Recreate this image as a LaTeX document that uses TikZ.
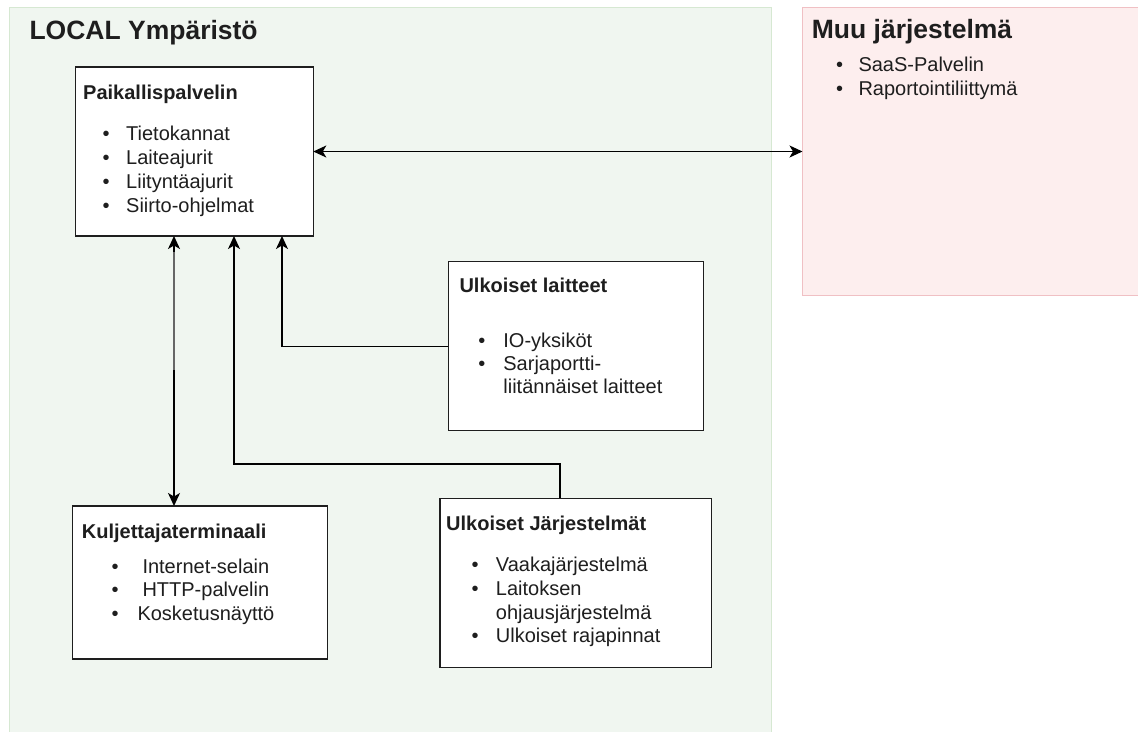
\documentclass[tikz,border=0pt]{standalone}
\usepackage{fontspec}
\setmainfont{Liberation Sans}
\usepackage{tikz}
\usetikzlibrary{arrows.meta}

\definecolor{localfill}{RGB}{240,246,240}
\definecolor{localline}{RGB}{214,232,210}
\definecolor{muufill}{RGB}{253,238,238}
\definecolor{muuline}{RGB}{240,192,196}
\definecolor{ink}{RGB}{30,30,30}

\tikzset{arr/.tip={Stealth[length=13pt,width=12pt,inset=3.5pt]}}

\begin{document}
\begin{tikzpicture}[x=1pt,y=-1pt,
    area/.style={draw, line width=1.2pt, anchor=north west, inner sep=0pt, outer sep=0pt},
    box/.style={draw=ink, fill=white, line width=1.5pt, anchor=north west, inner sep=0pt, outer sep=0pt},
    bigtitle/.style={anchor=base west, inner sep=0pt, text=ink, font=\fontsize{26.5}{30}\selectfont\bfseries},
    title/.style={anchor=base west, inner sep=0pt, text=ink, font=\fontsize{20}{24}\selectfont\bfseries},
    list/.style={anchor=base west, inner sep=0pt, text=ink},
    link/.style={draw=black, line width=1.4pt}]
    \clip (0,0) rectangle (1138,731);
    \fill[white] (0,0) rectangle (1138,731);

        % omat alueet
        \node[area, draw=localline, fill=localfill, minimum width=762pt, minimum height=740pt] (local) at (9.5,7.5) {};
        \node[area, draw=muuline, fill=muufill, minimum width=350pt, minimum height=288pt] (muu) at (802.5,7.5) {};
        \node[bigtitle] (localtitle) at (29.3,39.3) {LOCAL Ympäristö};
        \node[bigtitle] (muutitle) at (811.7,38.3) {Muu järjestelmä};
        \node[list] (muulist) at (835.8,71.7) {\fontsize{20}{23.3}\selectfont
            \begin{tabular}[t]{@{}c@{\hspace{15.5pt}}l@{}}
            \textbullet & SaaS-Palvelin\\
            \textbullet & Raportointiliittymä
            \end{tabular}};

        % laatikot
        \node[box, minimum width=238pt, minimum height=169pt] (pp) at (75.3,67) {};
        \node[box, minimum width=255pt, minimum height=169pt] (ul) at (448.3,261.7) {};
        \node[box, minimum width=255pt, minimum height=153pt] (kt) at (72.3,506) {};
        \node[box, minimum width=271.5pt, minimum height=169pt] (uj) at (440,498.3) {};

        \node[title] (pptitle) at (83,99) {Paikallispalvelin};
        \node[list] (pplist) at (102.5,140) {\fontsize{20}{24}\selectfont
            \begin{tabular}[t]{@{}c@{\hspace{16.5pt}}l@{}}
            \textbullet & Tietokannat\\
            \textbullet & Laiteajurit\\
            \textbullet & Liityntäajurit\\
            \textbullet & Siirto-ohjelmat
            \end{tabular}};

        \node[title] (ultitle) at (459.3,292.7) {Ulkoiset laitteet};
        \node[list] (ullist) at (478.2,347.3) {\fontsize{20}{23.3}\selectfont
            \begin{tabular}[t]{@{}c@{\hspace{18pt}}l@{}}
            \textbullet & IO-yksiköt\\
            \textbullet & Sarjaportti-\\
                        & liitännäiset laitteet
            \end{tabular}};

        \node[title] (kttitle) at (81.7,538.3) {Kuljettajaterminaali};
        \node[list] (ktlist) at (111.5,573.3) {\fontsize{20}{23.4}\selectfont
            \begin{tabular}[t]{@{}c@{\hspace{18.8pt}}c@{}}
            \textbullet & Internet-selain\\
            \textbullet & HTTP-palvelin\\
            \textbullet & Kosketusnäyttö
            \end{tabular}};

        \node[title] (ujtitle) at (446,530) {Ulkoiset Järjestelmät};
        \node[list] (ujlist) at (471.5,571.7) {\fontsize{20}{23.7}\selectfont
            \begin{tabular}[t]{@{}c@{\hspace{17.2pt}}l@{}}
            \textbullet & Vaakajärjestelmä\\
            \textbullet & Laitoksen\\
                        & ohjausjärjestelmä\\
            \textbullet & Ulkoiset rajapinnat
            \end{tabular}};

        % yhteydet
        \draw[link, arr-arr] (pp.east) -- (muu.west |- pp.east);
        \draw[link, arr-arr] (pp.south -| 174,0) -- (kt.north -| 174,0);
        \draw[gray!80!black, line width=2.6pt] (174,252) -- (174,370);
        \draw[link, -arr] (ul.west) -| (pp.south -| 282,0);
        \draw[link, -arr] (uj.north -| 560,0) |- (234,464) -- (pp.south -| 234,0);
    \end{tikzpicture}
\end{document}
